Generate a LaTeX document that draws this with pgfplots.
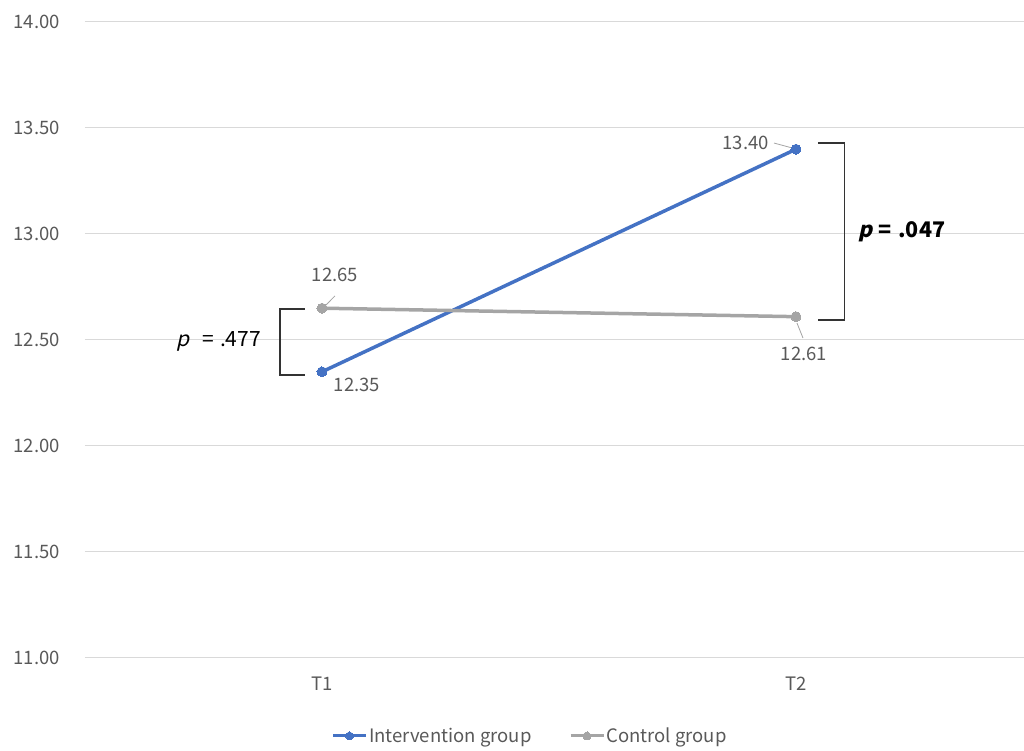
\documentclass[border=0pt]{standalone}
\usepackage{pgfplots}
\pgfplotsset{compat=1.18}
\usepackage{fontspec}
\setmainfont{Noto Sans CJK JP}
\newfontfamily\pit{Noto Sans CJK JP}[FakeSlant=0.22, BoldFeatures={FakeSlant=0.22}]
\definecolor{ser1}{HTML}{4472C4}
\definecolor{ser2}{HTML}{A5A5A5}
\definecolor{txt}{HTML}{595959}
\definecolor{grid}{HTML}{D9D9D9}
\begin{document}
\begin{tikzpicture}[x=1pt,y=1pt]
\path[use as bounding box] (0,0) rectangle (1024,751);
\begin{axis}[
  at={(85pt,93pt)}, anchor=south west,
  scale only axis, width=938.5pt, height=636pt,
  xmin=-0.5, xmax=1.48, ymin=11, ymax=14,
  xtick={0,1}, xticklabels={T1,T2},
  ytick={11,11.5,...,14},
  yticklabel={\pgfmathprintnumber[fixed,fixed zerofill,precision=2]{\tick}},
  /pgf/number format/assume math mode=true,
  axis line style={draw=none},
  major tick length=0pt, tick style={draw=none},
  xmajorgrids=false, ymajorgrids=true,
  y grid style={grid, line width=1pt},
  tick label style={font=\fontsize{18.5}{22}\selectfont, text=txt},
  yticklabel style={anchor=east, inner sep=0pt, xshift=-25pt},
  xticklabel style={anchor=north, inner sep=0pt, yshift=-19pt},
  clip=false,
  legend columns=2,
  legend style={draw=none, fill=none, at={(0.474,-0.1226)}, anchor=center,
    font=\fontsize{18.5}{22}\selectfont, text=txt, inner sep=0pt,
    /tikz/every even column/.append style={column sep=36pt},
    nodes={inner sep=1.5pt}},
  legend image code/.code={\draw[#1, line width=3pt, mark size=4pt, mark repeat=2, mark phase=2] plot coordinates {(0pt,0pt) (16.5pt,0pt) (33pt,0pt)};},
]
\addplot[ser1, line width=3.5pt, mark=*, mark size=5pt, mark options={solid, line width=0pt, fill=ser1}] coordinates {(0,12.35) (1,13.40)};
\addlegendentry{Intervention group}
\addplot[ser2, line width=3.5pt, mark=*, mark size=5pt, mark options={solid, line width=0pt, fill=ser2}] coordinates {(0,12.65) (1,12.61)};
\addlegendentry{Control group}

% data labels
\begin{scope}[every node/.style={font=\fontsize{18.5}{22}\selectfont, text=txt, inner sep=0pt}]
\node at (axis cs:0.0274,12.807) {12.65};
\node at (axis cs:0.0738,12.288) {12.35};
\node at (axis cs:0.894,13.429) {13.40};
\node at (axis cs:1.017,12.434) {12.61};
\end{scope}
\draw[ser2, line width=0.8pt] (axis cs:0.0274,12.708) -- (axis cs:0.0084,12.665);
\draw[ser2, line width=0.8pt] (axis cs:0.9536,13.429) -- (axis cs:0.9916,13.406);
\draw[ser2, line width=0.8pt] (axis cs:1.0021,12.580) -- (axis cs:1.0148,12.509);

% brackets
\draw[black!80, line width=1.2pt] (axis cs:-0.0359,12.646) -- (axis cs:-0.0886,12.646) -- (axis cs:-0.0886,12.335) -- (axis cs:-0.0359,12.335);
\draw[black!80, line width=1.2pt] (axis cs:1.046,13.429) -- (axis cs:1.103,13.429) -- (axis cs:1.103,12.594) -- (axis cs:1.046,12.594);
\node[font=\fontsize{21}{24}\selectfont, inner sep=0pt] at (axis cs:-0.218,12.491) {{\pit p}\hspace{0.6em}=\hspace{0.3em}.477};
\node[font=\fontsize{21.5}{24}\selectfont\bfseries, inner sep=0pt, anchor=west] at (axis cs:1.131,13.009) {{\pit\bfseries p}\hspace{0.3em}=\hspace{0.3em}.047};
\end{axis}
\end{tikzpicture}
\end{document}
